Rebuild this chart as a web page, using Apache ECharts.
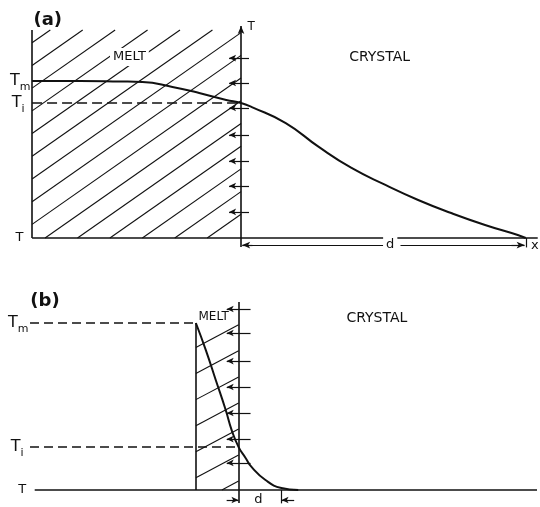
<!DOCTYPE html>
<html>
<head>
<meta charset="utf-8">
<script src="https://cdn.jsdelivr.net/npm/echarts@6/dist/echarts.min.js"></script>
<style>
  html, body { margin: 0; padding: 0; background: #ffffff; }
  #chart { width: 540px; height: 507px; }
</style>
</head>
<body>
<div id="chart"></div>
<script>
// Temperature profiles across a melt / crystal interface.
// x is depth measured from the interface (x = 0), in units of the heated depth d;
// T is scaled so that the ambient temperature is 0 and the melting point Tm is 1.

// ---- (a) thick melt layer ----
const aProfileX = [-0.734, -0.566, -0.427, -0.346, -0.241, -0.147, -0.052, 0, 0.038, 0.157, 0.273, 0.388, 0.507, 0.622, 0.738, 0.857, 0.972, 1.0];
const aProfileT = [1.0, 1.0, 0.997, 0.994, 0.962, 0.924, 0.879, 0.86, 0.834, 0.732, 0.58, 0.446, 0.338, 0.242, 0.159, 0.083, 0.019, 0.0];
const aMeltLeft = -0.734;   // outer edge of the melt
const aMeltTop = 1.325;     // top of the hatched melt block
const aRightEnd = 1.042;    // end of the x axis
const aTm = 1.0;
const aTi = 0.86;           // interface temperature
const aFluxT = [1.146, 0.987, 0.828, 0.656, 0.49, 0.331, 0.166]; // heat-flow arrows at the interface

// ---- (b) thin melt layer ----
const bProfileX = [-1.0, -0.767, -0.535, -0.302, -0.163, 0, 0.163, 0.302, 0.628, 1.0, 1.395];
const bProfileT = [1.0, 0.838, 0.659, 0.479, 0.359, 0.257, 0.192, 0.138, 0.06, 0.012, 0.0];
const bMeltLeft = -1.0;
const bLeftEnd = -4.88;     // start of the reference lines
const bRightEnd = 6.98;
const bTm = 1.0;
const bTi = 0.257;
const bFluxT = [1.084, 0.94, 0.772, 0.617, 0.461, 0.305, 0.162];

const INK = '#111111';
const FONT = 'DejaVu Sans';

// Diagonal hatching of a rectangular region, drawn in pixel space and clipped to the rectangle.
function hatch(angleDeg, gap, anchor) {
  return function (params, api) {
    const p0 = api.coord([api.value(0), api.value(1)]);
    const p1 = api.coord([api.value(2), api.value(3)]);
    const x0 = Math.min(p0[0], p1[0]), x1 = Math.max(p0[0], p1[0]);
    const y0 = Math.min(p0[1], p1[1]), y1 = Math.max(p0[1], p1[1]);
    const a = angleDeg * Math.PI / 180, sn = Math.sin(a), cs = Math.cos(a);
    const c0 = (x0 + anchor) * sn + y1 * cs;
    const corners = [x0 * sn + y0 * cs, x1 * sn + y0 * cs, x0 * sn + y1 * cs, x1 * sn + y1 * cs];
    const cmin = Math.min.apply(null, corners), cmax = Math.max.apply(null, corners);
    const children = [];
    for (let k = Math.ceil((cmin - c0) / gap); k <= Math.floor((cmax - c0) / gap); k++) {
      const c = c0 + k * gap;
      const pts = [];
      let y = (c - x0 * sn) / cs; if (y >= y0 && y <= y1) pts.push([x0, y]);
      y = (c - x1 * sn) / cs; if (y >= y0 && y <= y1) pts.push([x1, y]);
      let x = (c - y0 * cs) / sn; if (x >= x0 && x <= x1) pts.push([x, y0]);
      x = (c - y1 * cs) / sn; if (x >= x0 && x <= x1) pts.push([x, y1]);
      if (pts.length < 2) continue;
      pts.sort(function (p, q) { return p[0] - q[0]; });
      const s = pts[0], e = pts[pts.length - 1];
      if (Math.hypot(e[0] - s[0], e[1] - s[1]) < 2) continue;
      children.push({
        type: 'line',
        shape: { x1: s[0], y1: s[1], x2: e[0], y2: e[1] },
        style: { stroke: INK, lineWidth: 1.1 }
      });
    }
    return { type: 'group', children: children };
  };
}

// A straight segment for markLine, with optional arrowheads.
function seg(x1, y1, x2, y2, style, startSym, endSym, size) {
  const sz = size || [6, 8];
  return [
    { coord: [x1, y1], symbol: startSym || 'none', symbolSize: sz, lineStyle: style || {} },
    { coord: [x2, y2], symbol: endSym || 'none', symbolSize: sz }
  ];
}

const solid = { color: INK, width: 1.6, type: 'solid', opacity: 1 };
const thin = { color: INK, width: 1.2, type: 'solid', opacity: 1 };
const dashA = { color: INK, width: 1.5, type: [10, 5], opacity: 1 };
const dashB = { color: INK, width: 1.5, type: [9, 5], opacity: 1 };

function zip(xs, ys) { return xs.map(function (x, i) { return [x, ys[i]]; }); }

// ---- straight lines of panel (a)
const aLines = [
  seg(aMeltLeft, 0, aMeltLeft, aMeltTop, solid),
  seg(aMeltLeft, 0, aRightEnd, 0, solid),
  seg(0, -0.057, 0, 1.35, solid, 'none', 'arrow', [5, 8]),
  seg(aMeltLeft, aTi, 0, aTi, dashA),
  seg(1.0, 0, 1.0, -0.06, thin),
  seg(0.02, -0.045, 0.5, -0.045, thin, 'none', 'none'),
  seg(0.56, -0.045, 0.985, -0.045, thin, 'none', 'none'),
  seg(0.004, -0.045, 0.04, -0.045, thin, 'arrow', 'none', [5, 8]),
  seg(0.95, -0.045, 0.996, -0.045, thin, 'none', 'arrow', [5, 8])
].concat(aFluxT.map(function (t) { return seg(0.028, t, -0.042, t, thin, 'none', 'arrow', [5, 7]); }));

// ---- straight lines of panel (b)
const bLines = [
  seg(bLeftEnd, bTm, bMeltLeft, bTm, dashB),
  seg(bLeftEnd, bTi, 0, bTi, dashB),
  seg(-4.77, 0, bRightEnd, 0, solid),
  seg(bMeltLeft, 0, bMeltLeft, bTm, solid),
  seg(0, -0.078, 0, 1.126, solid),
  seg(1.0, 0, 1.0, -0.08, thin),
  seg(-0.28, -0.06, -0.005, -0.06, thin, 'none', 'arrow', [5, 7]),
  seg(1.3, -0.06, 1.005, -0.06, thin, 'none', 'arrow', [5, 7])
].concat(bFluxT.map(function (t) { return seg(0.279, t, -0.279, t, thin, 'none', 'arrow', [5, 7]); }));

// Labels are built from rich tokens; each token carries its own ink and line box.
function txt(x, y, text, pos, opts) {
  const o = opts || {};
  const size = o.size || 14;
  const lh = Math.round(size * 1.4);
  return {
    value: [x, y],
    label: {
      show: true,
      position: pos,
      distance: o.distance != null ? o.distance : 0,
      offset: o.offset || [0, 0],
      formatter: o.sub ? '{t|' + text + '}{s|' + o.sub + '}' : '{p|' + text + '}',
      color: INK,
      opacity: 1,
      textBorderWidth: 0,
      textBorderColor: 'transparent',
      backgroundColor: o.bg || 'transparent',
      padding: o.pad || 0,
      rich: {
        p: {
          fontSize: size, fontFamily: FONT, fontWeight: o.bold ? 'bold' : 'normal', color: INK,
          lineHeight: lh, verticalAlign: 'middle', textBorderWidth: 0, opacity: 1
        },
        t: { fontSize: 16, fontFamily: FONT, color: INK, lineHeight: 24, verticalAlign: 'middle' },
        s: { fontSize: 11, fontFamily: FONT, color: INK, lineHeight: 24, verticalAlign: 'bottom' }
      }
    }
  };
}

const aTexts = [
  txt(-0.731, 1.389, '(a)', 'right', { size: 18, bold: true }),
  txt(-0.462, 1.153, 'MELT', 'right', { size: 13, bg: '#ffffff', pad: [0, 3] }),
  txt(0.378, 1.153, 'CRYSTAL', 'right', { size: 14 }),
  txt(0, 1.344, 'T', 'right', { size: 12, distance: 6 }),
  txt(aMeltLeft, aTm, 'T', 'left', { sub: 'm', distance: 1, offset: [0, -2] }),
  txt(aMeltLeft, aTi, 'T', 'left', { sub: 'i', distance: 7, offset: [0, 0] }),
  txt(aMeltLeft, 0, 'T', 'left', { size: 13, distance: 8, offset: [0, -5] }),
  txt(0.524, -0.045, 'd', 'inside', { size: 13, bg: '#ffffff', pad: [0, 3] }),
  txt(1.017, -0.05, 'x', 'right', { size: 13 })
];

const bTexts = [
  txt(-4.884, 1.132, '(b)', 'right', { size: 18, bold: true }),
  txt(-0.95, 1.036, 'MELT', 'right', { size: 12 }),
  txt(2.51, 1.03, 'CRYSTAL', 'right', { size: 14 }),
  txt(bLeftEnd, bTm, 'T', 'left', { sub: 'm', distance: 1, offset: [0, -1] }),
  txt(bLeftEnd, bTi, 'T', 'left', { sub: 'i', distance: 6, offset: [0, -1] }),
  txt(-4.77, 0, 'T', 'left', { size: 13, distance: 8, offset: [0, -4] }),
  txt(0.465, -0.06, 'd', 'inside', { size: 13 })
];

function hiddenAxis(idx, min, max) {
  return {
    type: 'value', gridIndex: idx, min: min, max: max, show: false,
    axisLine: { show: false }, splitLine: { show: false }, axisTick: { show: false }, axisLabel: { show: false }
  };
}

// Text annotations: a tiny transparent point carries each label.
function textSeries(idx, data) {
  return {
    type: 'scatter', xAxisIndex: idx, yAxisIndex: idx, z: 10, silent: true, clip: false,
    symbol: 'circle', symbolSize: 1, itemStyle: { color: 'rgba(0,0,0,0)' },
    labelLayout: { hideOverlap: false }, data: data
  };
}

const option = {
  backgroundColor: '#ffffff',
  animation: false,
  grid: [
    { left: 27.5, width: 514.8, top: 10.35, height: 243.35 },
    { left: 3.5, width: 539.65, top: 281.25, height: 225.45 }
  ],
  xAxis: [hiddenAxis(0, -0.75, 1.05), hiddenAxis(1, -5.5, 7.05)],
  yAxis: [hiddenAxis(0, -0.1, 1.45), hiddenAxis(1, -0.1, 1.25)],
  series: [
    {
      type: 'custom', xAxisIndex: 0, yAxisIndex: 0, z: 1, silent: true,
      renderItem: hatch(35, 18.6, 13),
      encode: { x: [0, 2], y: [1, 3] },
      data: [[aMeltLeft, 0, 0, aMeltTop]]
    },
    {
      type: 'custom', xAxisIndex: 1, yAxisIndex: 1, z: 1, silent: true,
      renderItem: hatch(28, 23, 26),
      encode: { x: [0, 2], y: [1, 3] },
      data: [[bMeltLeft, 0, 0, bTm]]
    },
    {
      type: 'line', xAxisIndex: 0, yAxisIndex: 0, z: 3, silent: true,
      data: zip(aProfileX, aProfileT),
      smooth: 0.5, showSymbol: false, symbol: 'none',
      lineStyle: { color: INK, width: 2 },
      markLine: {
        silent: true, animation: false, label: { show: false },
        emphasis: { disabled: true }, lineStyle: solid, data: aLines
      }
    },
    {
      type: 'line', xAxisIndex: 1, yAxisIndex: 1, z: 3, silent: true,
      data: zip(bProfileX, bProfileT),
      smooth: 0.5, showSymbol: false, symbol: 'none',
      lineStyle: { color: INK, width: 2 },
      markLine: {
        silent: true, animation: false, label: { show: false },
        emphasis: { disabled: true }, lineStyle: solid, data: bLines
      }
    },
    textSeries(0, aTexts),
    textSeries(1, bTexts)
  ]
};

const chart = echarts.init(document.getElementById('chart'), null, { renderer: 'canvas' });
chart.setOption(option);
</script>
</body>
</html>
